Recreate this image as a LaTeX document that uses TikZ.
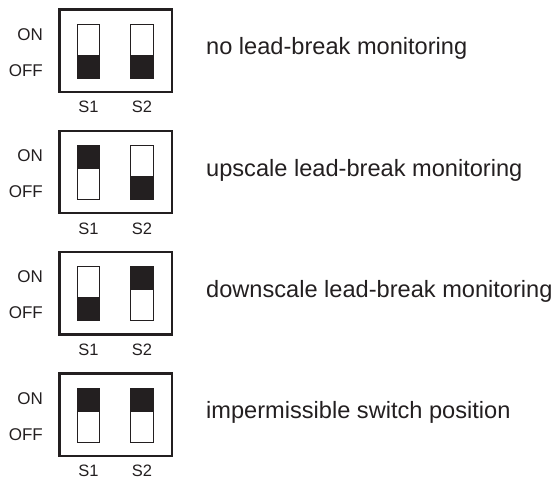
\documentclass[tikz,border=0pt]{standalone}
\usepackage{fontspec}
\setmainfont{Liberation Sans}
\definecolor{ink}{RGB}{35,31,32}
\begin{document}
\begin{tikzpicture}[x=1pt,y=-1pt,
	frame/.style={draw=ink, line width=2.4pt, minimum width=112.5pt, minimum height=82.3pt, inner sep=0pt},
	switch/.style={draw=ink, line width=0.9pt, minimum width=22.5pt, minimum height=54pt, inner sep=0pt},
	level/.style={font=\fontsize{17}{17}\selectfont, text=ink, anchor=east, inner sep=0pt},
	tag/.style={font=\fontsize{16.5}{16.5}\selectfont, text=ink, inner sep=0pt},
	caption/.style={font=\fontsize{23.6}{23.6}\selectfont, text=ink, anchor=base west, inner sep=0pt}]
	\useasboundingbox (0,0) rectangle (557,481);
	% switch settings: S1/S2 (1 = ON) and what they mean
	\def\settings {0/0/no lead-break monitoring,
		1/0/upscale lead-break monitoring,
		0/1/downscale lead-break monitoring,
		1/1/impermissible switch position};
	\foreach \sa/\sb/\desc [count=\index] in \settings
	{
		\pgfmathsetmacro{\ytop}{8.3+121.3*(\index-1)}
		% housing
		\node[frame] (box_\index) at (115.8,\ytop+42.4) {};
		\node[level] (on_\index) at (43,\ytop+26) {ON};
		\node[level] (off_\index) at (43,\ytop+62) {OFF};
		% the two slide switches
		\foreach \state [count=\pos] in {\sa,\sb}
		{
			\node[switch] (sw_\index_\pos) at (\pos*53.5+35,\ytop+43) {};
			\ifnum\state=1
				\fill[ink] (sw_\index_\pos.north west) rectangle ([yshift=-24pt]sw_\index_\pos.north east);
			\else
				\fill[ink] (sw_\index_\pos.south west) rectangle ([yshift=24pt]sw_\index_\pos.south east);
			\fi
			\node[tag] (s_\index_\pos) at (\pos*53.5+35,\ytop+99) {S\pos};
		}
		% meaning
		\node[caption] (desc_\index) at (206,\ytop+46.5) {\desc};
	}
\end{tikzpicture}
\end{document}
